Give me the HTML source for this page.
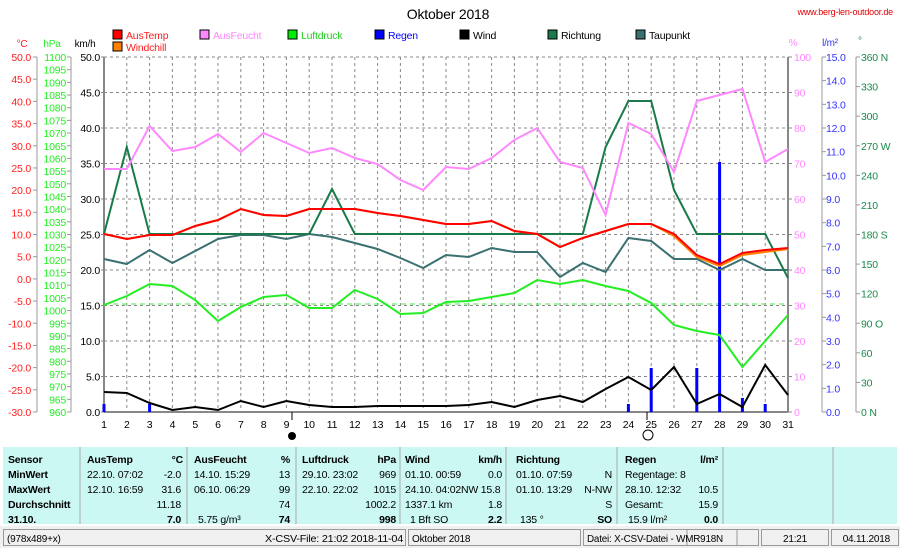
<!DOCTYPE html>
<html><head><meta charset="utf-8"><style>
body{margin:0;width:900px;height:548px;overflow:hidden;background:#fff;font-family:"Liberation Sans",sans-serif;}
svg text{font-family:"Liberation Sans",sans-serif;letter-spacing:-0.2px;}
</style></head><body>
<svg id="s" width="900" height="548" xmlns="http://www.w3.org/2000/svg">
<rect x="0" y="0" width="900" height="548" fill="#fff"/>
<text x="448" y="19" font-size="14" text-anchor="middle" fill="#000">Oktober 2018</text>
<text x="893" y="15" font-size="9" text-anchor="end" fill="#e00000">www.berg-len-outdoor.de</text>
<g id="g"></g>
</svg>
<script>
const g=document.getElementById('g');let h='';
const X=d=>104+(d-1)*22.8;
const F=10.5;
for(let k=1;k<10;k++){const y=57+35.5*k;h+=`<line x1="104" y1="${y}" x2="788" y2="${y}" stroke="#888" stroke-dasharray="3,3"/>`;}
h+=`<line x1="104" y1="57" x2="788" y2="57" stroke="#888" stroke-dasharray="3,3"/>`;
for(let d=2;d<31;d++)h+=`<line x1="${X(d)}" y1="57" x2="${X(d)}" y2="412" stroke="#888" stroke-dasharray="3,3"/>`;
h+=`<line x1="104" y1="57" x2="104" y2="412" stroke="#888" stroke-width="2"/><line x1="788" y1="57" x2="788" y2="412" stroke="#888" stroke-width="2"/><line x1="104" y1="412" x2="788" y2="412" stroke="#888" stroke-width="2"/>`;
h+=`<line x1="104" y1="304" x2="788" y2="304" stroke="#44ee44" stroke-dasharray="5,4"/>`;
for(let d=1;d<=31;d++)h+=`<text x="${X(d)}" y="428" font-size="${F}" text-anchor="middle">${d}</text>`;
h+=`<line x1="37" y1="57" x2="37" y2="412" stroke="#999"/><line x1="71" y1="57" x2="71" y2="412" stroke="#999"/>`;
for(let i=0;i<=16;i++){const y=57+i*355/16;h+=`<line x1="33" y1="${y}" x2="37" y2="${y}" stroke="#999"/><text x="31" y="${y+4}" font-size="${F}" text-anchor="end" fill="#ff2020">${(50-5*i).toFixed(1)}</text>`;}
for(let i=0;i<=28;i++){const y=57+i*355/28;h+=`<line x1="67" y1="${y}" x2="71" y2="${y}" stroke="#999"/><text x="66" y="${y+4}" font-size="${F}" text-anchor="end" fill="#22ee22">${1100-5*i}</text>`;}
for(let i=0;i<=10;i++){const y=57+i*35.5;h+=`<line x1="101" y1="${y}" x2="104" y2="${y}" stroke="#888"/><text x="100" y="${y+4}" font-size="${F}" text-anchor="end">${(50-5*i).toFixed(1)}</text>`;}
h+=`<text x="22" y="47" font-size="10" fill="#ff2020" text-anchor="middle">°C</text><text x="52" y="47" font-size="10" fill="#22ee22" text-anchor="middle">hPa</text><text x="85" y="47" font-size="10" text-anchor="middle">km/h</text>`;
for(let i=0;i<=10;i++){const y=57+i*35.5;h+=`<line x1="788" y1="${y}" x2="792" y2="${y}" stroke="#888"/><text x="794" y="${y+4}" font-size="${F}" fill="#ff88ff">${100-10*i}</text>`;}
h+=`<line x1="822" y1="57" x2="822" y2="412" stroke="#999"/><line x1="856" y1="57" x2="856" y2="412" stroke="#999"/>`;
for(let i=0;i<=15;i++){const y=57+i*355/15;h+=`<line x1="822" y1="${y}" x2="826" y2="${y}" stroke="#999"/><text x="826" y="${y+4}" font-size="${F}" fill="#3333ff">${(15-i).toFixed(1)}</text>`;}
const dl={0:' N',3:' W',6:' S',9:' O',12:' N'};
for(let i=0;i<=12;i++){const y=57+i*355/12;h+=`<line x1="856" y1="${y}" x2="860" y2="${y}" stroke="#999"/><text x="861" y="${y+4}" font-size="${F}" fill="#1a8a4a" xml:space="preserve">${360-30*i}${dl[i]||''}</text>`;}
h+=`<text x="793" y="46" font-size="10" fill="#ff88ff" text-anchor="middle">%</text><text x="830" y="46" font-size="10" fill="#3333ff" text-anchor="middle">l/m²</text><text x="858" y="44" font-size="10" fill="#1a8a4a">°</text>`;
const L=[[113,'#ff0000','AusTemp','#ff2020'],[200,'#ff88ff','AusFeucht','#ff88ff'],[288,'#00ee00','Luftdruck','#22cc22'],[375,'#0000ff','Regen','#0000ff'],[460,'#000','Wind','#000'],[548,'#1a7a4a','Richtung','#000'],[636,'#3a7070','Taupunkt','#000']];
L.forEach(l=>{h+=`<rect x="${l[0]}" y="30" width="9" height="9" fill="${l[1]}" stroke="#000"/><text x="${l[0]+13}" y="39" font-size="${F}" fill="${l[3]}">${l[2]}</text>`;});
h+=`<rect x="113" y="42" width="9" height="9" fill="#ff8000" stroke="#000"/><text x="126" y="51" font-size="${F}" fill="#ff2020">Windchill</text>`;
const R={1:404,3:404,24:404,25:368,27:368,28:162,29:398,30:404};
for(const d in R)h+=`<rect x="${X(+d)-1.5}" y="${R[d]}" width="3" height="${412-R[d]}" fill="#0000ff"/>`;
const P=(a,c,w)=>{h+=`<polyline fill="none" stroke="${c}" stroke-width="${w||2}" points="${a.map((y,i)=>X(i+1)+','+y).join(' ')}"/>`;};
P([259,264,250,263,251,239,235,235,239,234,237,243,249,258,268,255,257,248,252,252,277,263,272,238,241,259,259,270,259,270,270],'#3a7070');
P([234,147,234,234,234,234,234,234,234,234,189,234,234,234,234,234,234,234,234,234,234,234,147,101,101,190,234,234,234,234,278],'#1a7a4a');
P([169,169,126,151,147,134,152,133,143,153,148,158,164,180,190,167,169,158,140,128,162,168,215,123,134,172,101,95,89,162,149],'#ff88ff');
P([305,296,284,286,300,321,307,297,295,308,308,290,299,314,313,302,301,297,293,280,284,280,286,291,303,325,331,335,367,341,315],'#22ee22');
P([234,239,235,235,226,220,209,215,216,209,209,209,213,216,220,224,224,221,231,234,247,238,231,224,224,236,257,266,255,252,249],'#ff8000');
P([234,239,235,235,226,220,209,215,216,209,209,209,213,216,220,224,224,221,231,234,247,238,231,224,224,234,255,264,253,250,248],'#ff0000');
P([392,393,403,410,407,410,401,407,401,405,407,407,406,406,406,406,405,402,407,400,396,402,389,377,390,367,404,394,407,365,395],'#000');
h+=`<line x1="292" y1="412" x2="292" y2="420" stroke="#000"/><circle cx="292" cy="436" r="4" fill="#000"/><line x1="647" y1="412" x2="647" y2="420" stroke="#000"/><circle cx="648" cy="435" r="5" fill="#fff" stroke="#000"/>`;
h+=`<rect x="3" y="447" width="894" height="77" fill="#ccf8f4"/>`;
[80,187,296,400,506,617,723,833].forEach(x=>h+=`<line x1="${x}" y1="447" x2="${x}" y2="524" stroke="#aaa"/>`);
const rows=[459,474,489,504,519];
const T=(x,y,s,o)=>{o=o||{};h+=`<text x="${x}" y="${y+4}" font-size="${F}" ${o.b?'font-weight="bold"':''} ${o.r?'text-anchor="end"':''}>${s}</text>`;};
['Sensor','MinWert','MaxWert','Durchschnitt','31.10.'].forEach((s,i)=>T(8,rows[i],s,{b:1}));
T(87,rows[0],'AusTemp',{b:1});T(183,rows[0],'°C',{b:1,r:1});
T(87,rows[1],'22.10.  07:02');T(181,rows[1],'-2.0',{r:1});
T(87,rows[2],'12.10.  16:59');T(181,rows[2],'31.6',{r:1});
T(181,rows[3],'11.18',{r:1});T(181,rows[4],'7.0',{r:1,b:1});
T(194,rows[0],'AusFeucht',{b:1});T(290,rows[0],'%',{b:1,r:1});
T(194,rows[1],'14.10.  15:29');T(290,rows[1],'13',{r:1});
T(194,rows[2],'06.10.  06:29');T(290,rows[2],'99',{r:1});
T(290,rows[3],'74',{r:1});T(198,rows[4],'5.75 g/m³');T(290,rows[4],'74',{r:1,b:1});
T(302,rows[0],'Luftdruck',{b:1});T(396,rows[0],'hPa',{b:1,r:1});
T(302,rows[1],'29.10.  23:02');T(396,rows[1],'969',{r:1});
T(302,rows[2],'22.10.  22:02');T(396,rows[2],'1015',{r:1});
T(396,rows[3],'1002.2',{r:1});T(396,rows[4],'998',{r:1,b:1});
T(405,rows[0],'Wind',{b:1});T(502,rows[0],'km/h',{b:1,r:1});
T(405,rows[1],'01.10.  00:59');T(502,rows[1],'0.0',{r:1});
T(405,rows[2],'24.10.  04:02NW 15.8');
T(405,rows[3],'1337.1 km');T(502,rows[3],'1.8',{r:1});
T(410,rows[4],'1 Bft SO');T(502,rows[4],'2.2',{r:1,b:1});
T(516,rows[0],'Richtung',{b:1});
T(516,rows[1],'01.10.  07:59');T(612,rows[1],'N',{r:1});
T(516,rows[2],'01.10.  13:29');T(612,rows[2],'N-NW',{r:1});
T(612,rows[3],'S',{r:1});T(520,rows[4],'135 °');T(612,rows[4],'SO',{r:1,b:1});
T(625,rows[0],'Regen',{b:1});T(718,rows[0],'l/m²',{b:1,r:1});
T(625,rows[1],'Regentage: 8');
T(625,rows[2],'28.10.  12:32');T(718,rows[2],'10.5',{r:1});
T(625,rows[3],'Gesamt:');T(718,rows[3],'15.9',{r:1});
T(628,rows[4],'15.9 l/m²');T(718,rows[4],'0.0',{r:1,b:1});
h+=`<rect x="0" y="526" width="900" height="22" fill="#f0f0f0"/>`;
[[3,407],[408,582],[583,760],[761,830],[831,900]].forEach(b=>h+=`<rect x="${b[0]+0.5}" y="529.5" width="${b[1]-b[0]-2}" height="16" fill="none" stroke="#999"/>`);
h+=`<line x1="687" y1="530" x2="687" y2="546" stroke="#999"/><line x1="737" y1="530" x2="737" y2="546" stroke="#999"/>`;
h+=`<text x="7" y="542" font-size="10">(978x489+x)</text><text x="403" y="542" font-size="10" text-anchor="end" textLength="138" lengthAdjust="spacingAndGlyphs">X-CSV-File:  21:02  2018-11-04</text><text x="412" y="542" font-size="10">Oktober 2018</text><text x="587" y="542" font-size="10" textLength="136" lengthAdjust="spacingAndGlyphs">Datei: X-CSV-Datei - WMR918N</text><text x="807" y="542" font-size="10" text-anchor="end">21:21</text><text x="890" y="542" font-size="10" text-anchor="end">04.11.2018</text>`;
g.innerHTML=h;
</script>
</body></html>
